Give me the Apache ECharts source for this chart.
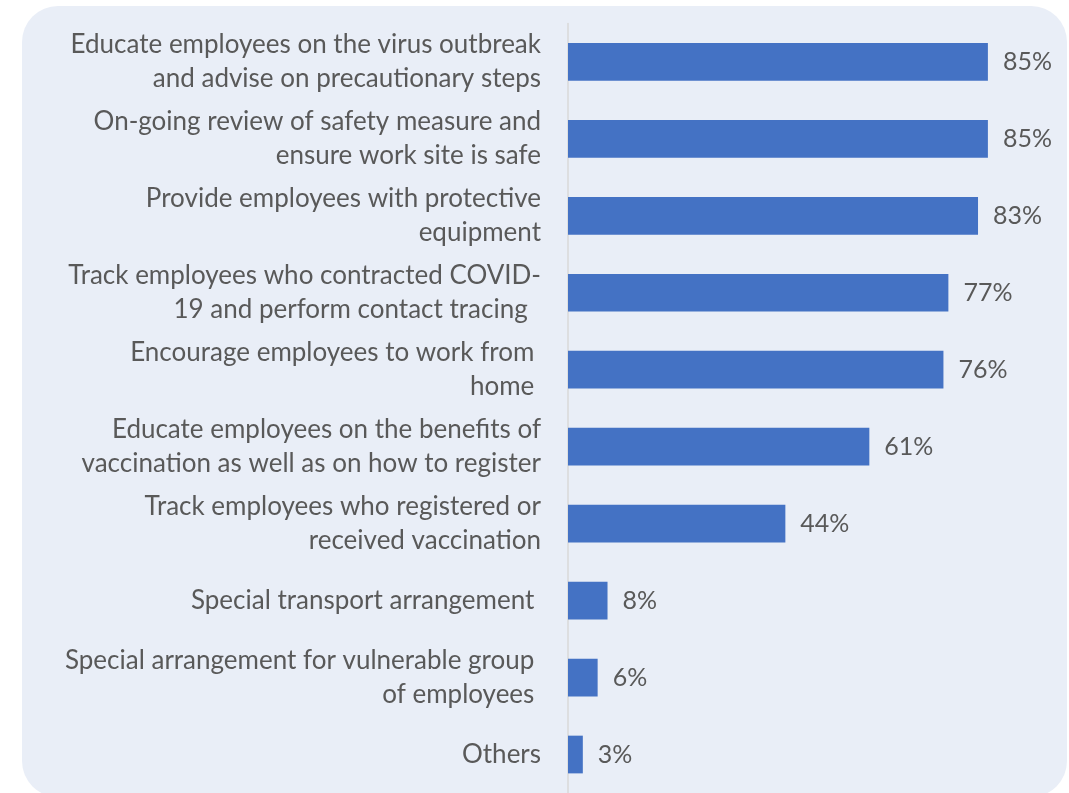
<!DOCTYPE html>
<html>
<head>
<meta charset="utf-8">
<script src="https://cdn.jsdelivr.net/npm/echarts@6/dist/echarts.min.js"></script>
<style>
  html, body { margin: 0; padding: 0; background: #ffffff; }
  #chart { width: 1069px; height: 793px; }
</style>
</head>
<body>
<div id="chart"></div>
<script>
// Workplace measures taken by employers (share of respondents, %)
const categories = [
  'Educate employees on the virus outbreak\nand advise on precautionary steps',
  'On-going review of safety measure and\nensure work site is safe',
  'Provide employees with protective\nequipment',
  'Track employees who contracted COVID-\n19 and perform contact tracing  ',
  'Encourage employees to work from \nhome ',
  'Educate employees on the benefits of\nvaccination as well as on how to register',
  'Track employees who registered or\nreceived vaccination',
  'Special transport arrangement ',
  'Special arrangement for vulnerable group \nof employees ',
  'Others'
];
const values = [85, 85, 83, 77, 76, 61, 44, 8, 6, 3];

const FONT = 'Lato, "Open Sans", sans-serif';
const TEXT = '#595959';

const chart = echarts.init(document.getElementById('chart'), null, { renderer: 'canvas' });
chart.setOption({
  animation: false,
  backgroundColor: '#ffffff',
  graphic: [{
    type: 'rect',
    z: -10,
    silent: true,
    shape: { x: 22, y: 6, width: 1045, height: 791, r: 36 },
    style: { fill: '#E9EEF7' }
  }],
  grid: { left: 568, right: 7, top: 23.4, height: 771.7, containLabel: false },
  xAxis: {
    type: 'value', min: 0, max: 100,
    show: false
  },
  yAxis: {
    type: 'category',
    inverse: true,
    data: categories,
    axisLine: { show: true, lineStyle: { color: '#D9D9D9', width: 1.5 } },
    axisTick: { show: false },
    axisLabel: {
      margin: 27,
      color: TEXT,
      fontFamily: FONT,
      fontSize: 26,
      lineHeight: 34,
      align: 'right',
      padding: [5, 0, 0, 0]
    }
  },
  series: [{
    type: 'bar',
    data: values,
    barCategoryGap: '51%',
    itemStyle: { color: '#4472C4' },
    label: {
      show: true,
      position: 'right',
      distance: 15,
      formatter: '{c}%',
      color: TEXT,
      fontFamily: FONT,
      fontSize: 25,
      padding: [3, 0, 0, 0]
    }
  }]
});
</script>
</body>
</html>
